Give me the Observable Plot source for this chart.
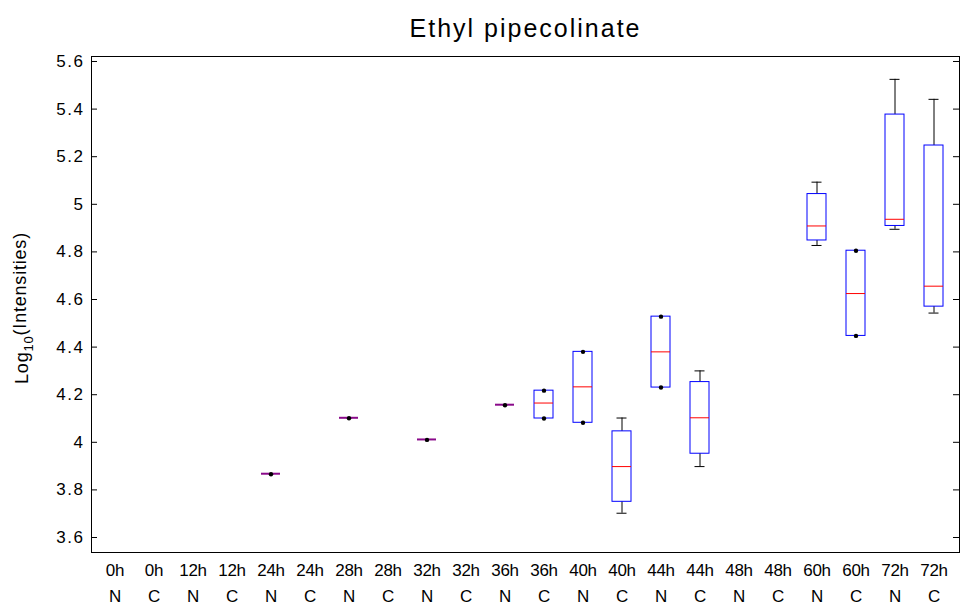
<!DOCTYPE html>
<html><head><meta charset="utf-8">
<script src="https://cdn.jsdelivr.net/npm/d3@7"></script>
<script src="https://cdn.jsdelivr.net/npm/@observablehq/plot@0.6"></script>
<style>
body{margin:0;background:#fff;}
svg text{font-family:"Liberation Sans",Arial,Helvetica,sans-serif;}
g[aria-label="y-axis tick label"] text{letter-spacing:1.5px;}
g[aria-label="x-axis tick label"] text{letter-spacing:-0.3px;}
g[aria-label="text"] text{letter-spacing:2px;}
</style></head><body><div id="chart"></div>
<script>
const title = "Ethyl pipecolinate";
const yLabelMain = "Log";
const yLabelSub = "10";
const yLabelTail = "(Intensities)";
const times = ["0h","0h","12h","12h","24h","24h","28h","28h","32h","32h","36h","36h","40h","40h","44h","44h","48h","48h","60h","60h","72h","72h"];
const groups = ["N","C","N","C","N","C","N","C","N","C","N","C","N","C","N","C","N","C","N","C","N","C"];
const whiskerLow  = [null,null,null,null,3.868,null,4.103,null,4.012,null,4.158,4.100,4.082,3.702,4.230,3.898,null,null,4.827,4.447,4.895,4.543];
const q1          = [null,null,null,null,3.868,null,4.103,null,4.012,null,4.158,4.100,4.082,3.750,4.230,3.952,null,null,4.848,4.447,4.909,4.570];
const median      = [null,null,null,null,3.868,null,4.103,null,4.012,null,4.158,4.165,4.233,3.898,4.380,4.103,null,null,4.909,4.625,4.937,4.656];
const q3          = [null,null,null,null,3.868,null,4.103,null,4.012,null,4.158,4.217,4.380,4.046,4.528,4.253,null,null,5.043,4.805,5.377,5.247];
const whiskerHigh = [null,null,null,null,3.868,null,4.103,null,4.012,null,4.158,4.217,4.380,4.102,4.528,4.300,null,null,5.093,4.805,5.525,5.441];
const pointIndex  = [4,6,8,10,11,11,12,12,14,14,19,19];
const pointValues = [3.866,4.101,4.010,4.156,4.217,4.100,4.380,4.082,4.528,4.230,4.805,4.447];
const yTicks = [3.6,3.8,4,4.2,4.4,4.6,4.8,5,5.2,5.4,5.6];

const categories = times.map((t,i)=>t+"\n"+groups[i]);
const boxes = categories.map((c,i)=>({c, lo:whiskerLow[i], q1:q1[i], med:median[i], q3:q3[i], hi:whiskerHigh[i]})).filter(d=>d.med!=null);
const whiskers = boxes.filter(d=>d.hi>d.q3 || d.lo<d.q1);
const points = pointIndex.map((k,i)=>({c:categories[k], v:pointValues[i]}));

const W = 961, H = 610, mL = 91, mR = 2, mT = 56, mB = 58;
const frameW = W - mL - mR;

const plot = Plot.plot({
  width: W, height: H,
  marginLeft: mL, marginRight: mR, marginTop: mT, marginBottom: mB,
  style: {background:"#fff", color:"#000"},
  x: {type:"band", domain: categories, range:[89.5, 958.5], padding:0, label:null},
  y: {domain:[3.537, 5.621], label:null},
  marks: [
    Plot.frame({stroke:"#000"}),
    Plot.tickY(yTicks, {y:d=>d, stroke:"#000", insetRight: frameW-6}),
    Plot.tickY(yTicks, {y:d=>d, stroke:"#000", insetLeft: frameW-6}),
    Plot.ruleX(whiskers, {x:"c", y1:"q3", y2:"hi", stroke:"#000"}),
    Plot.ruleX(whiskers, {x:"c", y1:"lo", y2:"q1", stroke:"#000"}),
    Plot.tickY(whiskers, {x:"c", y:"hi", stroke:"#000", insetLeft:14.5, insetRight:14.5}),
    Plot.tickY(whiskers, {x:"c", y:"lo", stroke:"#000", insetLeft:14.5, insetRight:14.5}),
    Plot.barY(boxes, {x:"c", y1:"q1", y2:"q3", fill:"none", stroke:"#0000ff", insetLeft:10, insetRight:10, insetTop:0, insetBottom:0}),
    Plot.tickY(boxes, {filter:d=>d.q3>d.q1, x:"c", y:"med", stroke:"#ff0000", insetLeft:10, insetRight:10}),
    Plot.tickY(boxes, {filter:d=>d.q3===d.q1, x:"c", y:"med", stroke:"#8a0a8a", strokeWidth:2, insetLeft:10, insetRight:10}),
    Plot.dot(points, {x:"c", y:"v", r:2.2, fill:"#000", stroke:null}),
    Plot.axisY(yTicks, {tickSize:0, tickPadding:7, tickFormat:d=>String(d), fontSize:17, label:null}),
    Plot.axisX({tickSize:0, tickPadding:4, fontSize:17, lineHeight:1.58, label:null}),
    Plot.text([title], {text:d=>d, frameAnchor:"top", dy:-37, fontSize:25})
  ]
});

const svg = d3.select(plot);
const lab = svg.append("text")
  .attr("transform","translate(28,308) rotate(-90)")
  .attr("text-anchor","middle")
  .attr("font-size",18)
  .attr("fill","#000")
  .style("letter-spacing","0.8px");
lab.append("tspan").text(yLabelMain);
lab.append("tspan").attr("dy","0.35em").attr("font-size",13).text(yLabelSub);
lab.append("tspan").attr("dy","-0.35em").text(yLabelTail);

document.getElementById("chart").appendChild(plot);
</script></body></html>
